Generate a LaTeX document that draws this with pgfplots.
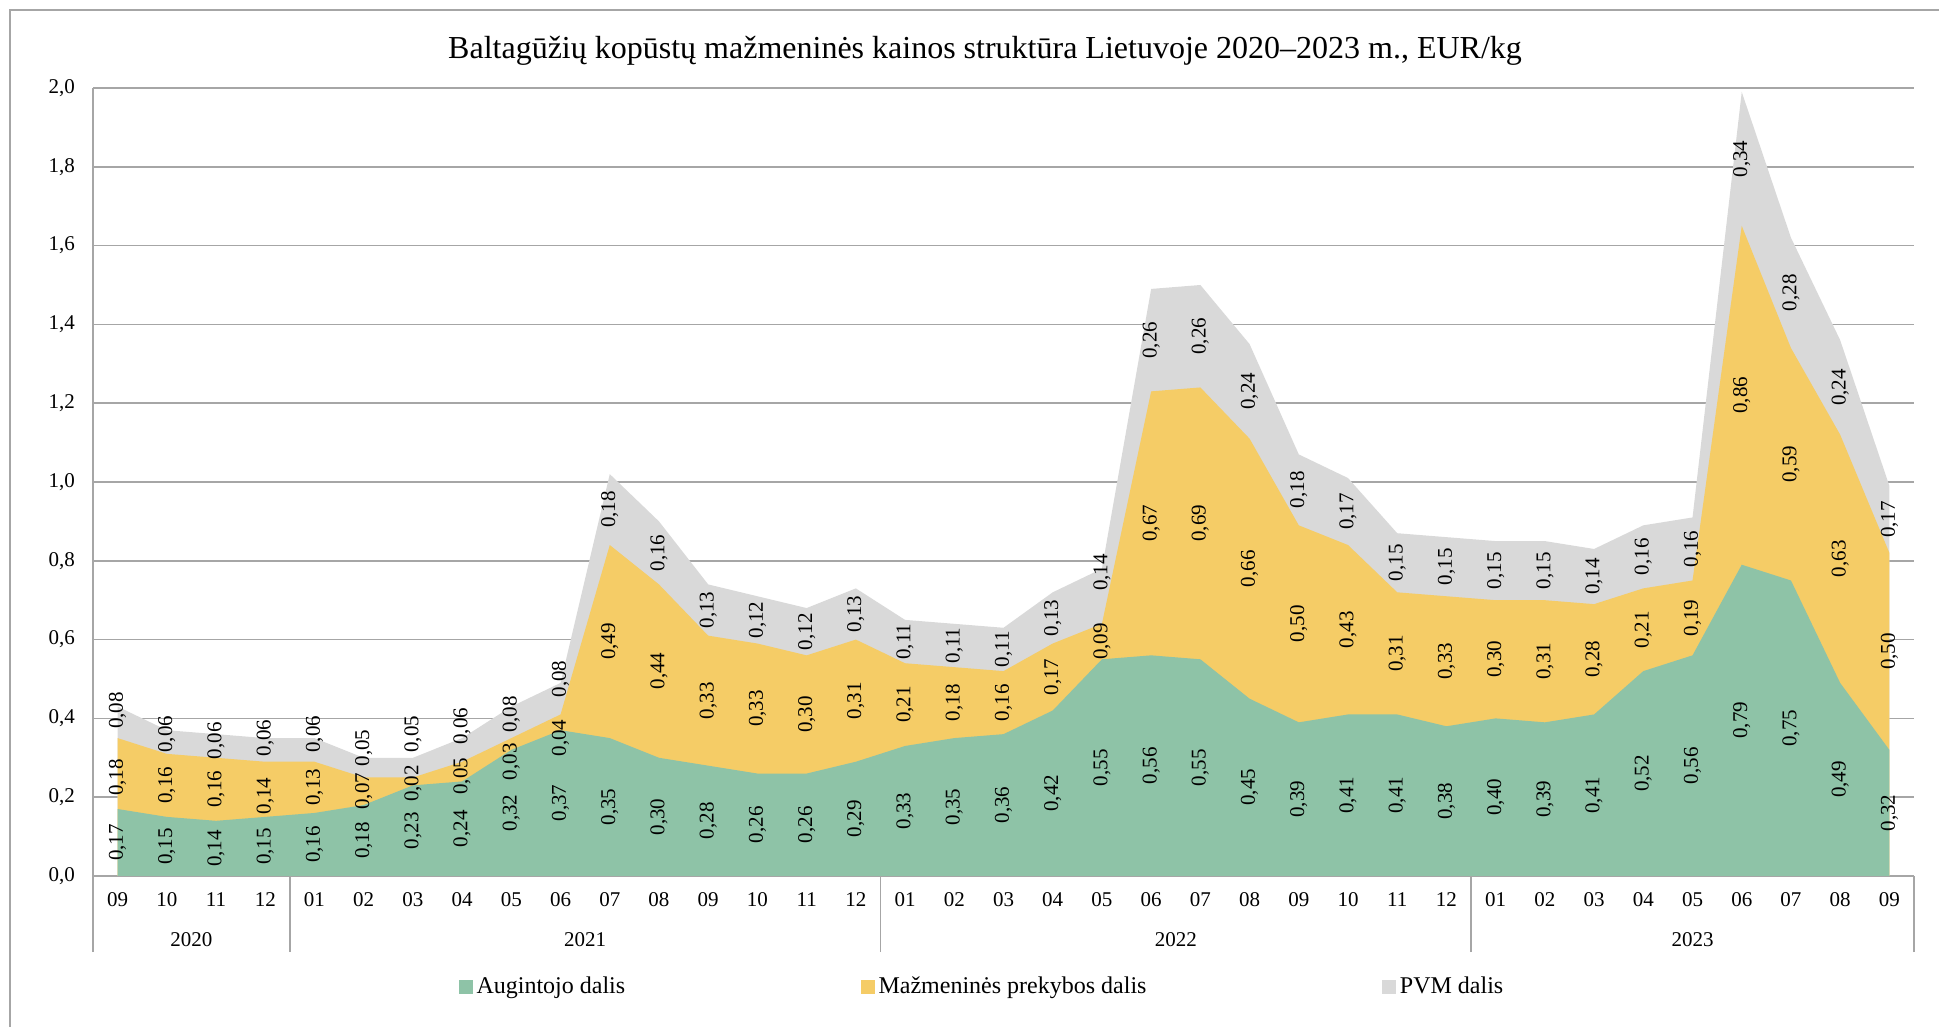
\documentclass[border=0pt]{standalone}
\usepackage{pgfplots}
\pgfplotsset{compat=1.18}
\usepackage{pgfplotstable}
\usepackage{fontspec}
\setmainfont{Liberation Serif}
\definecolor{cgreen}{RGB}{142,195,167}
\definecolor{cyellow}{RGB}{245,204,102}
\definecolor{cgray}{RGB}{217,217,217}
\definecolor{cline}{RGB}{166,166,166}

% a = Augintojo, b = Mazmenines prekybos, c = PVM; oy, og = label nudges (value units)
\pgfplotstableread{
x a b c oy og
0 0.17 0.18 0.08 -0.01 0.03
1 0.15 0.16 0.06 0 0.02
2 0.14 0.16 0.06 0 0.013
3 0.15 0.14 0.06 -0.017 0.03
4 0.16 0.13 0.06 0 0.04
5 0.18 0.07 0.05 0 0.05
6 0.23 0.02 0.05 -0.005 0.085
7 0.24 0.05 0.06 -0.012 0.06
8 0.32 0.03 0.08 -0.045 0.02
9 0.37 0.04 0.08 -0.04 0.05
10 0.35 0.49 0.18 0 0
11 0.30 0.44 0.16 0 0
12 0.28 0.33 0.13 0 0
13 0.26 0.33 0.12 0 0
14 0.26 0.30 0.12 0 0
15 0.29 0.31 0.13 0 0
16 0.33 0.21 0.11 0 0
17 0.35 0.18 0.11 0 0
18 0.36 0.16 0.11 0 0
19 0.42 0.17 0.13 0 0
20 0.55 0.09 0.14 0 0.06
21 0.56 0.67 0.26 0 0
22 0.55 0.69 0.26 0 0
23 0.45 0.66 0.24 0 0
24 0.39 0.50 0.18 0 0
25 0.41 0.43 0.17 0 0
26 0.41 0.31 0.15 0 0
27 0.38 0.33 0.15 0 0
28 0.40 0.30 0.15 0 0
29 0.39 0.31 0.15 0 0
30 0.41 0.28 0.14 0 0
31 0.52 0.21 0.16 0 0
32 0.56 0.19 0.16 0 0
33 0.79 0.86 0.34 0 0
34 0.75 0.59 0.28 0 0
35 0.49 0.63 0.24 0 0
36 0.32 0.50 0.17 0 0
}\data

\begin{document}
\begin{tikzpicture}
\path[use as bounding box] (0,0) rectangle (969.5pt,513.5pt);
\draw[cline, line width=0.8pt] (5pt,0) -- (5pt,508.5pt) -- (969.5pt,508.5pt);
\node[font=\fontsize{16}{19}\selectfont] at (492.5pt,488pt) {Baltagūžių kopūstų mažmeninės kainos struktūra Lietuvoje 2020–2023 m., EUR/kg};
\begin{axis}[
  at={(46.5pt,75.5pt)}, anchor=south west,
  width=910.5pt, height=394pt, scale only axis,
  xmin=-0.5, xmax=36.5, ymin=0, ymax=2,
  axis x line=bottom, axis y line=left,
  axis line style={cline, line width=0.8pt, -},
  ytick={0,0.2,0.4,0.6,0.8,1.0,1.2,1.4,1.6,1.8,2.0},
  ymajorgrids, grid style={cline, line width=0.8pt},
  major tick length=0pt,
  xtick={0,...,36},
  xticklabels={09,10,11,12,01,02,03,04,05,06,07,08,09,10,11,12,01,02,03,04,05,06,07,08,09,10,11,12,01,02,03,04,05,06,07,08,09},
  extra x ticks={-0.5,3.5,15.5,27.5,36.5},
  extra x tick labels={},
  extra x tick style={major tick length=38pt, tick align=outside, tick style={cline, line width=0.8pt}, grid=none},
  /pgf/number format/assume math mode=true,
  yticklabel style={/pgf/number format/fixed, /pgf/number format/fixed zerofill, /pgf/number format/precision=1, /pgf/number format/use comma},
  tick label style={font=\fontsize{10.5}{12}\selectfont},
  xticklabel style={anchor=center, yshift=-12pt},
  yticklabel style={anchor=east, xshift=-5.5pt},
  clip=false,
  legend style={at={(axis description cs:0.4887,-0.1409)}, anchor=center, draw=none,
    legend columns=3, font=\fontsize{12}{14}\selectfont,
    /tikz/every even column/.append style={column sep=115.7pt}},
  legend cell align=left,
  legend image code/.code={\fill[#1] (0pt,-3.5pt) rectangle (7pt,3.5pt);},
  nodes near coords={\pgfmathprintnumber[fixed,fixed zerofill,precision=2,use comma,assume math mode=true]{\pgfplotspointmeta}},
  every node near coord/.append style={rotate=90, anchor=center, text=black, font=\fontsize{10.5}{12}\selectfont, inner sep=0pt},
]
\addlegendimage{fill=cgreen, draw=none}
\addlegendentry{Augintojo dalis}
\addlegendimage{fill=cyellow, draw=none}
\addlegendentry{Mažmeninės prekybos dalis}
\addlegendimage{fill=cgray, draw=none}
\addlegendentry{PVM dalis}

\addplot[fill=cgray, draw=none, forget plot, nodes near coords=] table[x=x, y expr=\thisrow{a}+\thisrow{b}+\thisrow{c}] {\data} \closedcycle;
\addplot[fill=cyellow, draw=none, forget plot, nodes near coords=] table[x=x, y expr=\thisrow{a}+\thisrow{b}] {\data} \closedcycle;
\addplot[fill=cgreen, draw=none, forget plot, nodes near coords=] table[x=x, y=a] {\data} \closedcycle;

\addplot[draw=none, mark=none, forget plot, point meta=explicit] table[x=x, y expr=\thisrow{a}/2, meta=a] {\data};
\addplot[draw=none, mark=none, forget plot, point meta=explicit] table[x=x, y expr=\thisrow{a}+\thisrow{b}/2+\thisrow{oy}, meta=b] {\data};
\addplot[draw=none, mark=none, forget plot, point meta=explicit] table[x=x, y expr=\thisrow{a}+\thisrow{b}+\thisrow{c}/2+\thisrow{og}, meta=c] {\data};

\node[font=\fontsize{10.5}{12}\selectfont] at (axis cs:1.5,0) [yshift=-32pt] {2020};
\node[font=\fontsize{10.5}{12}\selectfont] at (axis cs:9.5,0) [yshift=-32pt] {2021};
\node[font=\fontsize{10.5}{12}\selectfont] at (axis cs:21.5,0) [yshift=-32pt] {2022};
\node[font=\fontsize{10.5}{12}\selectfont] at (axis cs:32,0) [yshift=-32pt] {2023};
\end{axis}
\end{tikzpicture}
\end{document}
